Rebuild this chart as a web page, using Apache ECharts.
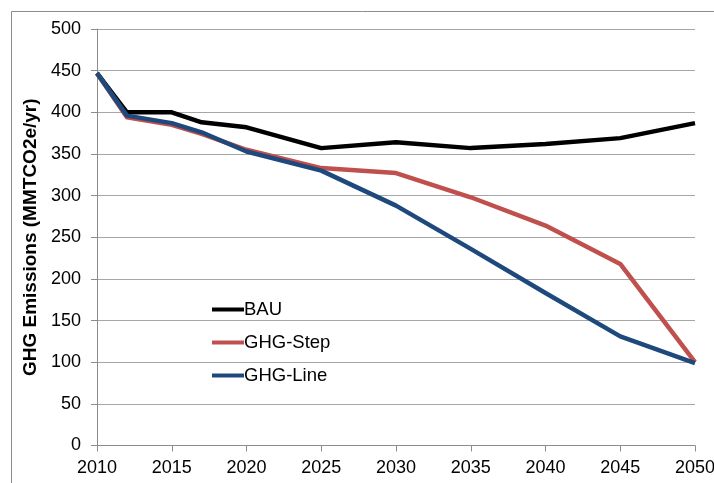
<!DOCTYPE html>
<html>
<head>
<meta charset="utf-8">
<script src="https://cdn.jsdelivr.net/npm/echarts@6/dist/echarts.min.js"></script>
<style>
  html, body { margin: 0; padding: 0; background: #fff; }
  #chart { width: 714px; height: 483px; }
</style>
</head>
<body>
<div id="chart"></div>
<script>
// GHG emission pathways, MMTCO2e per year
const years = [2010, 2012, 2015, 2017, 2020, 2025, 2030, 2035, 2040, 2045, 2050];
const bau = [447, 400, 400, 388, 382, 357, 364, 357, 362, 369, 387];
const ghgStep = [447, 394, 385, 374, 355, 333, 327, 298, 264, 218, 100];
const ghgLine = [447, 396, 387, 376, 353, 330, 288, 236, 183, 131, 99];
const seriesNames = ['BAU', 'GHG-Step', 'GHG-Line'];
const yTitle = 'GHG Emissions (MMTCO2e/yr)';

const pairs = vals => years.map((y, i) => [y, vals[i]]);
const font = '"Liberation Sans", Arial, sans-serif';

const chart = echarts.init(document.getElementById('chart'), null, { renderer: 'canvas' });

const mkSeries = (name, vals, color) => ({
  name: name,
  type: 'line',
  data: pairs(vals),
  symbol: 'none',
  smooth: false,
  lineStyle: { color: color, width: 4.5, join: 'round' },
  itemStyle: { color: color },
  emphasis: { disabled: true }
});

// chart frame: only its top and left edges fall inside the canvas
const frameStyle = { stroke: '#8c8c8c', lineWidth: 1 };

chart.setOption({
  animation: false,
  backgroundColor: '#ffffff',
  graphic: [
    { type: 'line', shape: { x1: 11.5, y1: 11.5, x2: 714, y2: 11.5 }, style: frameStyle, silent: true },
    { type: 'line', shape: { x1: 11.5, y1: 11.5, x2: 11.5, y2: 483 }, style: frameStyle, silent: true }
  ],
  grid: { left: 97, right: 19, top: 29, bottom: 37.5, containLabel: false, outerBoundsMode: 'none' },
  legend: {
    orient: 'vertical',
    left: 207,
    top: 295,
    itemWidth: 32,
    itemHeight: 14,
    itemGap: 14,
    data: seriesNames.map(n => ({ name: n, icon: 'path://M0,0 L32,0 L32,4 L0,4 Z' })),
    textStyle: { fontFamily: font, fontSize: 18.5, lineHeight: 18, color: '#000', padding: [0, 0, 0, -5] }
  },
  xAxis: {
    type: 'value',
    min: 2010,
    max: 2050,
    interval: 5,
    axisLine: { show: true, lineStyle: { color: '#8c8c8c', width: 1 } },
    axisTick: { show: true, inside: false, length: 6, lineStyle: { color: '#8c8c8c' } },
    splitLine: { show: false },
    axisLabel: { fontFamily: font, fontSize: 18, color: '#000', margin: 14, formatter: v => String(v) }
  },
  yAxis: {
    type: 'value',
    min: 0,
    max: 500,
    interval: 50,
    name: yTitle,
    nameLocation: 'middle',
    nameRotate: 90,
    nameGap: 54,
    nameTextStyle: { fontFamily: font, fontSize: 19, fontWeight: 'bold', color: '#000' },
    axisLine: { show: true, lineStyle: { color: '#8c8c8c', width: 1 } },
    axisTick: { show: true, inside: false, length: 6, lineStyle: { color: '#8c8c8c' } },
    splitLine: { show: true, lineStyle: { color: '#a6a6a6', width: 1 } },
    axisLabel: { fontFamily: font, fontSize: 18, color: '#000', margin: 16 }
  },
  series: [
    mkSeries(seriesNames[0], bau, '#000000'),
    mkSeries(seriesNames[1], ghgStep, '#C0504D'),
    mkSeries(seriesNames[2], ghgLine, '#1F497D')
  ]
});
</script>
</body>
</html>
